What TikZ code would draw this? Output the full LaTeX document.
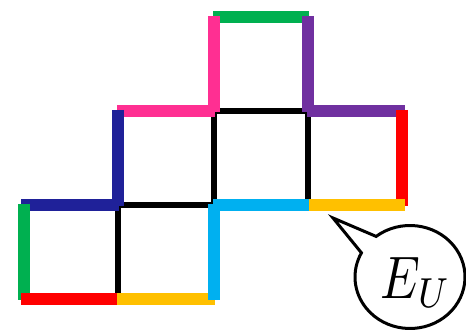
\documentclass[tikz,border=0pt]{standalone}
\usepackage{amsmath}
\usetikzlibrary{calc}
\definecolor{cgreen}{HTML}{00B050}
\definecolor{cpink}{HTML}{FF2F92}
\definecolor{cpurple}{HTML}{7030A0}
\definecolor{cred}{HTML}{FF0000}
\definecolor{cblue}{HTML}{1F2199}
\definecolor{ccyan}{HTML}{00B0F0}
\definecolor{cyellow}{HTML}{FFC000}
\begin{document}
\begin{tikzpicture}[x=1pt,y=1pt,
  grid/.style={draw=black,line width=5.5pt,line cap=butt},
  seg/.style={line width=12pt,line cap=butt,shorten <=-1pt,shorten >=-1pt},
  bubble/.style={draw=black,line width=3pt,line join=miter}]
\useasboundingbox (0,0) rectangle (466,331);
% grid points (x: 22,118,214,308,404 ; y: 314,220,126,32)
\coordinate (a2) at (214,314); \coordinate (a3) at (308,314);
\coordinate (b1) at (118,220); \coordinate (b2) at (214,220); \coordinate (b3) at (308,220); \coordinate (b4) at (404,220);
\coordinate (c0) at (22,126); \coordinate (c1) at (118,126); \coordinate (c2) at (214,126); \coordinate (c3) at (308,126); \coordinate (c4) at (404,126);
\coordinate (d0) at (22,32); \coordinate (d1) at (118,32); \coordinate (d2) at (214,32);
% black grid
\draw[grid] (b2) -- (b3) (b2) -- (c2) (b3) -- (c3) (c1) -- (c2) (c1) -- (d1) (c2) -- (d2) (b4)--(c4) (c3)--(c4) (c0)--(d0) (d0)--(d2) (c0)--(c1) (b1)--(c1) (b1)--(b2) (a2)--(a3) (a2)--(b2) (a3)--(b3) (b3)--(b4) (c2)--(c3);
% coloured segments
\draw[seg,cgreen] (a2) -- (a3);
\draw[seg,cpink] (a2) -- (b2);
\draw[seg,cpink] (b1) -- (b2);
\draw[seg,cpurple] (a3) -- (b3);
\draw[seg,cpurple] (b3) -- (b4);
\draw[seg,cred] ([xshift=-2pt]b4) -- ([xshift=-2pt]c4);
\draw[seg,cblue] (b1) -- (c1);
\draw[seg,cblue] (c0) -- (c1);
\draw[seg,cgreen] ([xshift=2pt]c0) -- ([xshift=2pt]d0);
\draw[seg,cred] (d0) -- (d1);
\draw[seg,cyellow] (d1) -- (d2);
\draw[seg,cyellow] (c3) -- (c4);
\draw[seg,ccyan] (c2) -- (c3);
\draw[seg,ccyan] (c2) -- (d2);
% speech bubble
\coordinate (bc) at (410,54);
\coordinate (tip) at (333,113);
\fill[white] (bc) ellipse [x radius=55, y radius=51.5];
\draw[bubble] ($(bc)+(128:55 and 51.5)$) arc [start angle=128, end angle=-208, x radius=55, y radius=51.5] -- (tip) -- cycle;
\node (eu) at (416,48) {\scalebox{5}[6]{$E_U$}};
\end{tikzpicture}
\end{document}
